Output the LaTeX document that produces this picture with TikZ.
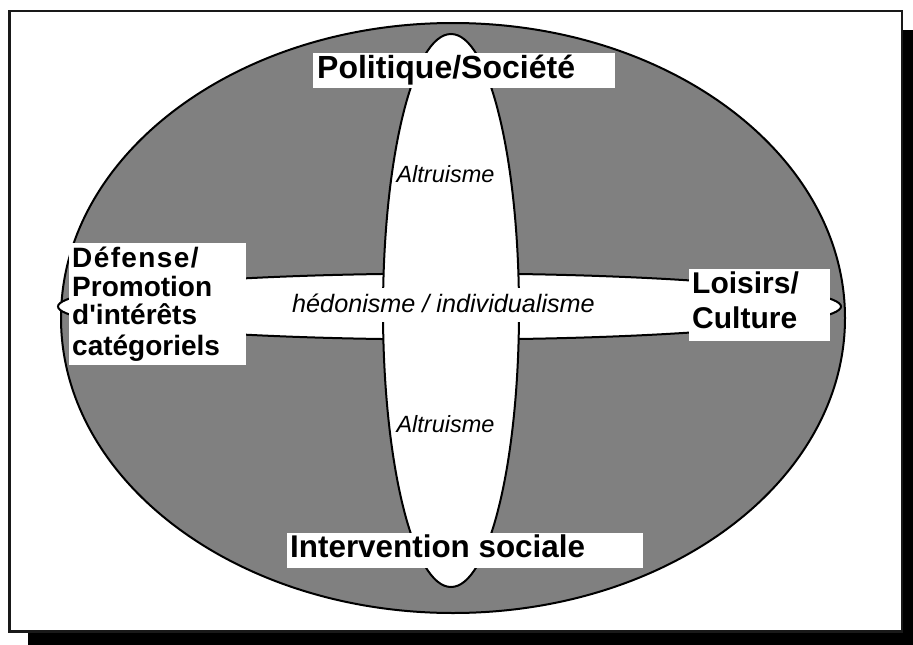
\documentclass[tikz,border=0pt]{standalone}
\usepackage{fontspec}
\setmainfont{Liberation Sans}[Ligatures=TeXOff]
\newfontfamily\widesans{Liberation Sans}[Ligatures=TeXOff,LetterSpace=5]
\definecolor{fieldgray}{RGB}{128,128,128}
\begin{document}
\begin{tikzpicture}[x=1pt,y=-1pt,
  outline/.style={draw=black,line width=2pt},
  headfont/.style={font=\bfseries\fontsize{32}{35}\selectfont},
  sidefont/.style={font=\bfseries\fontsize{30}{35}\selectfont},
  leftfont/.style={font=\bfseries\fontsize{28}{29}\selectfont},
  notefont/.style={font=\itshape\fontsize{23.5}{26}\selectfont},
  labelbox/.style={fill=white,inner sep=0pt,anchor=north west},
  textat/.style={inner sep=0pt,anchor=base west}]
\useasboundingbox (0,0) rectangle (913,645);
% drop shadow and frame
\fill[black] (28,30) rectangle (913,645);
\draw[fill=white,draw=black!90,line width=2.7pt] (9.7,11) rectangle (902,631.3);
% grey field
\draw[outline,fill=fieldgray] (453,318) ellipse [x radius=392,y radius=295];
% horizontal band
\draw[outline,fill=white] (449.5,306.5) ellipse [x radius=391.5,y radius=33];
% vertical band
\draw[outline,fill=white] (451,310.5) ellipse [x radius=68,y radius=276.5];
% band captions
\node[fill=white,minimum width=310,minimum height=34,inner sep=0pt] (midbox) at (443.5,305) {};
\node[notefont,font=\itshape\fontsize{25.2}{28}\selectfont,anchor=base,inner sep=0pt] (hedo) at (443.5,312) {hédonisme / individualisme};
\node[notefont,anchor=base,inner sep=0pt] (altup) at (445.5,182) {Altruisme};
\node[notefont,anchor=base,inner sep=0pt] (altdown) at (445.5,432) {Altruisme};
% top label
\node[labelbox,minimum width=302,minimum height=35] (topbox) at (313,53) {};
\node[headfont,textat] (toptext) at (317,78) {Politique/Société};
% bottom label
\node[labelbox,minimum width=356,minimum height=35] (botbox) at (287,533) {};
\node[headfont,font=\bfseries\fontsize{31.4}{35}\selectfont,textat] (bottext) at (290,557) {Intervention sociale};
% right label
\node[labelbox,minimum width=141,minimum height=72] (rightbox) at (689,269) {};
\node[sidefont,textat] (right1) at (692,293) {Loisirs/};
\node[sidefont,textat] (right2) at (692,328) {Culture};
% left label
\node[labelbox,minimum width=177,minimum height=122] (leftbox) at (69,243) {};
\node[leftfont,textat] (left1) at (72,267) {\widesans Défense/};
\node[leftfont,textat] (left2) at (72,296) {Promotion};
\node[leftfont,textat] (left3) at (72,324) {d'intérêts};
\node[leftfont,textat] (left4) at (72,355) {catégoriels};
\end{tikzpicture}
\end{document}
